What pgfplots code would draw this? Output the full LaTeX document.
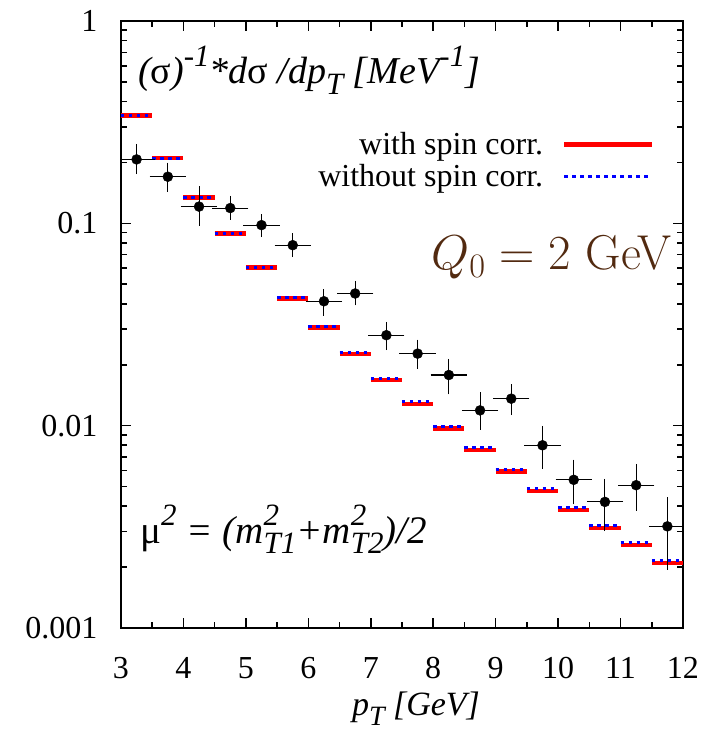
\RequirePackage{fix-cm}
\documentclass[border=0pt]{standalone}
\usepackage[no-math]{fontspec}
\usepackage{amsmath}
\setmainfont{Liberation Serif}
\newfontfamily\lmr{Latin Modern Roman}
\usepackage{pgfplots}
\usepackage{pgfplotstable}
\pgfplotsset{compat=1.18}
\definecolor{qbrown}{RGB}{82,42,16}
\newcommand{\mysup}[1]{\raisebox{0.45em}{\fontsize{31}{31}\selectfont #1}}
\newcommand{\mysub}[1]{\raisebox{-0.28em}{\fontsize{31}{31}\selectfont #1}}
\newcommand{\xsub}[1]{\raisebox{-0.28em}{\fontsize{28}{28}\selectfont #1}}

\pgfplotstableread{
x y
3.0 0.342
3.5 0.342
3.5 nan
3.5 0.210
4.0 0.210
4.0 nan
4.0 0.134
4.5 0.134
4.5 nan
4.5 0.089
5.0 0.089
5.0 nan
5.0 0.0605
5.5 0.0605
5.5 nan
5.5 0.0425
6.0 0.0425
6.0 nan
6.0 0.0306
6.5 0.0306
6.5 nan
6.5 0.0226
7.0 0.0226
7.0 nan
7.0 0.0168
7.5 0.0168
7.5 nan
7.5 0.0128
8.0 0.0128
8.0 nan
8.0 0.0097
8.5 0.0097
8.5 nan
8.5 0.0076
9.0 0.0076
9.0 nan
9.0 0.00595
9.5 0.00595
9.5 nan
9.5 0.00475
10.0 0.00475
10.0 nan
10.0 0.00383
10.5 0.00383
10.5 nan
10.5 0.00312
11.0 0.00312
11.0 nan
11.0 0.00257
11.5 0.00257
11.5 nan
11.5 0.00209
12.0 0.00209
}\withspin

\pgfplotstableread{
x y
3.0 0.342
3.5 0.342
3.5 nan
3.5 0.210
4.0 0.210
4.0 nan
4.0 0.134
4.5 0.134
4.5 nan
4.5 0.089
5.0 0.089
5.0 nan
5.0 0.0607
5.5 0.0607
5.5 nan
5.5 0.0428
6.0 0.0428
6.0 nan
6.0 0.0309
6.5 0.0309
6.5 nan
6.5 0.0229
7.0 0.0229
7.0 nan
7.0 0.0171
7.5 0.0171
7.5 nan
7.5 0.0131
8.0 0.0131
8.0 nan
8.0 0.0099
8.5 0.0099
8.5 nan
8.5 0.0078
9.0 0.0078
9.0 nan
9.0 0.0061
9.5 0.0061
9.5 nan
9.5 0.00488
10.0 0.00488
10.0 nan
10.0 0.00393
10.5 0.00393
10.5 nan
10.5 0.0032
11.0 0.0032
11.0 nan
11.0 0.00264
11.5 0.00264
11.5 nan
11.5 0.00215
12.0 0.00215
}\withoutspin

\pgfplotstableread{
x y ex ep em
3.25 0.207 0.25 0.033 0.027
3.75 0.170 0.25 0.024 0.023
4.25 0.121 0.25 0.027 0.021
4.75 0.119 0.25 0.014 0.012
5.25 0.098 0.25 0.010 0.010
5.75 0.078 0.25 0.009 0.008
6.25 0.0412 0.25 0.0048 0.0052
6.75 0.045 0.25 0.0055 0.0045
7.25 0.028 0.25 0.0037 0.0037
7.75 0.0227 0.25 0.0032 0.0030
8.25 0.0178 0.25 0.0030 0.0031
8.75 0.0119 0.25 0.0023 0.0021
9.25 0.0136 0.25 0.0020 0.0020
9.75 0.0080 0.25 0.0017 0.0017
10.25 0.0054 0.25 0.0012 0.0012
10.75 0.0042 0.25 0.0011 0.0011
11.25 0.00508 0.25 0.00122 0.00118
11.75 0.00318 0.25 0.00112 0.00118
}\datapts

\begin{document}
\begin{tikzpicture}
\begin{axis}[
  scale only axis,
  width=562pt, height=607pt,
  xmin=3, xmax=12,
  ymode=log, ymin=0.001, ymax=1,
  xtick={3,4,...,12},
  minor x tick num=1,
  ytick={0.001,0.01,0.1,1},
  yticklabels={0.001,0.01,0.1,1},
  /pgf/number format/assume math mode=true,
  tick label style={font=\fontsize{32}{36}\selectfont},
  every y tick label/.append style={xshift=-20pt},
  every x tick label/.append style={yshift=-26pt},
  axis line style={line width=2.6pt},
  tick style={line width=1.6pt, black},
  major tick length=10pt,
  minor tick length=6pt,
  tick align=inside,
  xlabel={\itshape p\xsub{T} [GeV]},
  xlabel style={font=\fontsize{34}{38}\selectfont, yshift=-6pt, xshift=14pt},
  unbounded coords=jump,
  legend style={draw=none, fill=none, inner sep=0pt, at={(rel axis cs:0.950,0.818)}, anchor=north east,
    font=\fontsize{32}{34}\selectfont, row sep=6pt,
    nodes={inner sep=1pt},
    /tikz/every odd column/.append style={column sep=18pt}},
  legend cell align=right,
  legend plot pos=right,
  legend image code/.code={\draw[#1] (0pt,0pt) -- (88pt,0pt);},
]
\addplot[red, line width=4.5pt] table[x=x,y=y] {\withspin};
\addlegendentry{with spin corr.}
\addplot[blue, line width=3pt, dash pattern=on 3.5pt off 4.5pt] table[x=x,y=y] {\withoutspin};
\addlegendentry{without spin corr.}
\addplot[black, only marks, mark=*, mark size=5pt, forget plot,
  error bars/.cd, x dir=both, x explicit, y dir=both, y explicit,
  error bar style={line width=1.1pt, black},
  error mark options={line width=1.1pt, mark size=2.5pt, black}]
  table[x=x, y=y, x error=ex, y error plus=ep, y error minus=em] {\datapts};
\node[anchor=base west, font=\fontsize{38}{40}\selectfont\itshape] at (rel axis cs:0.024,0.897)
  {({\upshape σ})\mysup{-1}*d{\upshape σ} /dp\mysub{T} [MeV\mysup{-1}]};
\node[anchor=base east, text=qbrown, font=\fontsize{49}{52}\selectfont\lmr] at (rel axis cs:0.985,0.590)
  {$Q_0 = 2$ GeV};
\node[anchor=base west, font=\fontsize{39}{42}\selectfont\itshape] at (rel axis cs:0.028,0.140)
  {{\upshape μ}\mysup{2} = (m\rlap{\mysup{2}}\mysub{T1}+m\rlap{\mysup{2}}\mysub{T2})/2};
\end{axis}
\path (current axis.south west) ++(-121pt,-105pt) coordinate (bbsw);
\path (current axis.north east) ++(44pt,21pt) coordinate (bbne);
\useasboundingbox (bbsw) rectangle (bbne);
\end{tikzpicture}
\end{document}
